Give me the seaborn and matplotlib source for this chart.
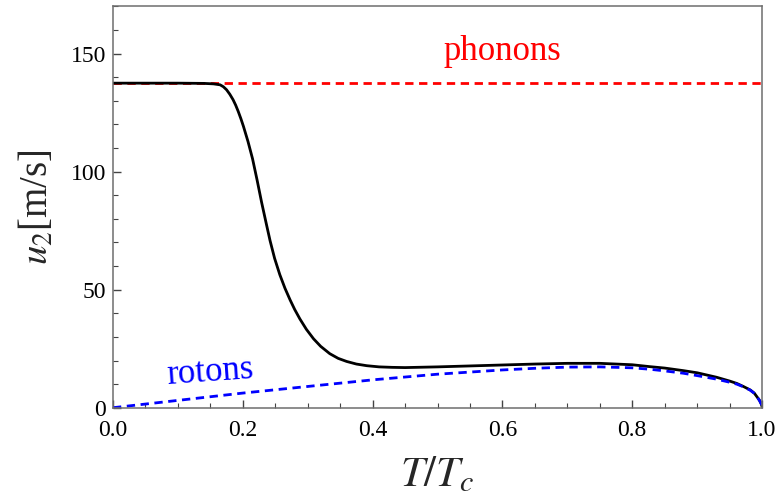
import numpy as np
import pandas as pd
import matplotlib
matplotlib.use("Agg")
import matplotlib.pyplot as plt
import seaborn as sns
from matplotlib.ticker import MultipleLocator

# ---- data ----
T_total = [0.0, 0.05, 0.10, 0.14, 0.155, 0.165, 0.170, 0.175, 0.180, 0.185, 0.189,
           0.193, 0.197, 0.201, 0.208, 0.215, 0.222, 0.229, 0.236, 0.242, 0.249,
           0.257, 0.265, 0.273, 0.28, 0.288, 0.298, 0.309, 0.32, 0.334, 0.347,
           0.36, 0.375, 0.391, 0.41, 0.43, 0.45, 0.5, 0.55, 0.6, 0.65, 0.7,
           0.75, 0.8, 0.827, 0.85, 0.879, 0.9, 0.93, 0.95, 0.961, 0.972, 0.982,
           0.988, 0.992, 0.996, 0.999, 1.0]
u2_total = [137.5, 137.5, 137.5, 137.4, 137.2, 136.8, 136.0, 134.7, 132.8, 130.5, 128.2,
            125.5, 122.5, 119.2, 112.8, 105.5, 96.5, 87.0, 78.2, 70.8, 63.3,
            56.4, 50.6, 45.6, 41.6, 37.6, 33.2, 29.2, 26.0, 22.9, 20.9,
            19.6, 18.5, 17.8, 17.3, 17.1, 17.0, 17.3, 17.7, 18.1, 18.5, 18.8,
            18.8, 18.2, 17.4, 16.8, 15.7, 14.8, 12.9, 11.3, 10.3, 8.9, 7.5,
            6.2, 4.7, 3.2, 1.5, 0.5]

T_rot = [0.0, 0.1, 0.2, 0.3, 0.4, 0.5, 0.6, 0.65, 0.7, 0.75, 0.8, 0.827, 0.85,
         0.879, 0.9, 0.93, 0.95, 0.961, 0.972, 0.982, 0.988, 0.992, 0.996, 0.999, 1.0]
u2_rot = [0.0, 3.1, 6.2, 9.0, 11.8, 14.2, 16.0, 16.7, 17.2, 17.3, 16.9, 16.3, 15.6,
          14.6, 13.6, 12.1, 10.8, 10.0, 8.8, 7.4, 6.1, 4.7, 3.1, 1.5, 0.5]

T_phon = [0.0, 1.0]
u2_phon = [137.5, 137.5]

x_ticks = [0.0, 0.2, 0.4, 0.6, 0.8, 1.0]
y_ticks = [0, 50, 100, 150]

df_total = pd.DataFrame({"T": T_total, "u2": u2_total})
df_rot = pd.DataFrame({"T": T_rot, "u2": u2_rot})
df_phon = pd.DataFrame({"T": T_phon, "u2": u2_phon})

sns.set_theme(style="ticks")
plt.rcParams["font.family"] = ["Liberation Serif", "DejaVu Serif"]
plt.rcParams["mathtext.fontset"] = "stix"

fig = plt.figure(figsize=(7.83, 4.96), dpi=100)
ax = fig.add_axes([0.1443, 0.178, 0.8289, 0.809])

sns.lineplot(data=df_phon, x="T", y="u2", ax=ax, color="#ff0000", lw=2.0,
             linestyle=(0, (3.0, 2.0)))
sns.lineplot(data=df_total, x="T", y="u2", ax=ax, color="black", lw=2.0)
sns.lineplot(data=df_rot, x="T", y="u2", ax=ax, color="#0000ff", lw=2.0,
             linestyle=(0, (3.0, 2.0)))

ax.set_xlim(0, 1)
ax.set_ylim(0, 170)
ax.set_xticks(x_ticks)
ax.set_xticklabels([f"{v:.1f}" for v in x_ticks])
ax.set_yticks(y_ticks)
ax.set_yticklabels([str(v) for v in y_ticks])
ax.xaxis.set_minor_locator(MultipleLocator(0.05))
ax.yaxis.set_minor_locator(MultipleLocator(10))

for s in ax.spines.values():
    s.set_color("#6e6e6e")
    s.set_linewidth(1.1)
ax.tick_params(which="both", direction="in", top=False, right=False,
               color="#444444", labelsize=17, labelcolor="black")
ax.tick_params(which="major", length=6, width=1.0)
ax.tick_params(axis="x", which="major", pad=9)
ax.tick_params(axis="y", which="major", pad=5)
ax.tick_params(which="minor", length=3.5, width=0.8)

ax.set_xlabel(r"$T/T_c$", fontsize=31, labelpad=10)
ax.set_ylabel(r"$u_2$[m/s]", fontsize=28, labelpad=10)

ax.text(0.6, 151, "phonons", color="#ff0000", fontsize=25, ha="center", va="center")
ax.text(0.15, 15.0, "rotons", color="#0000ff", fontsize=25, ha="center", va="center",
        rotation=4)

fig.savefig("out.png", dpi=100)
